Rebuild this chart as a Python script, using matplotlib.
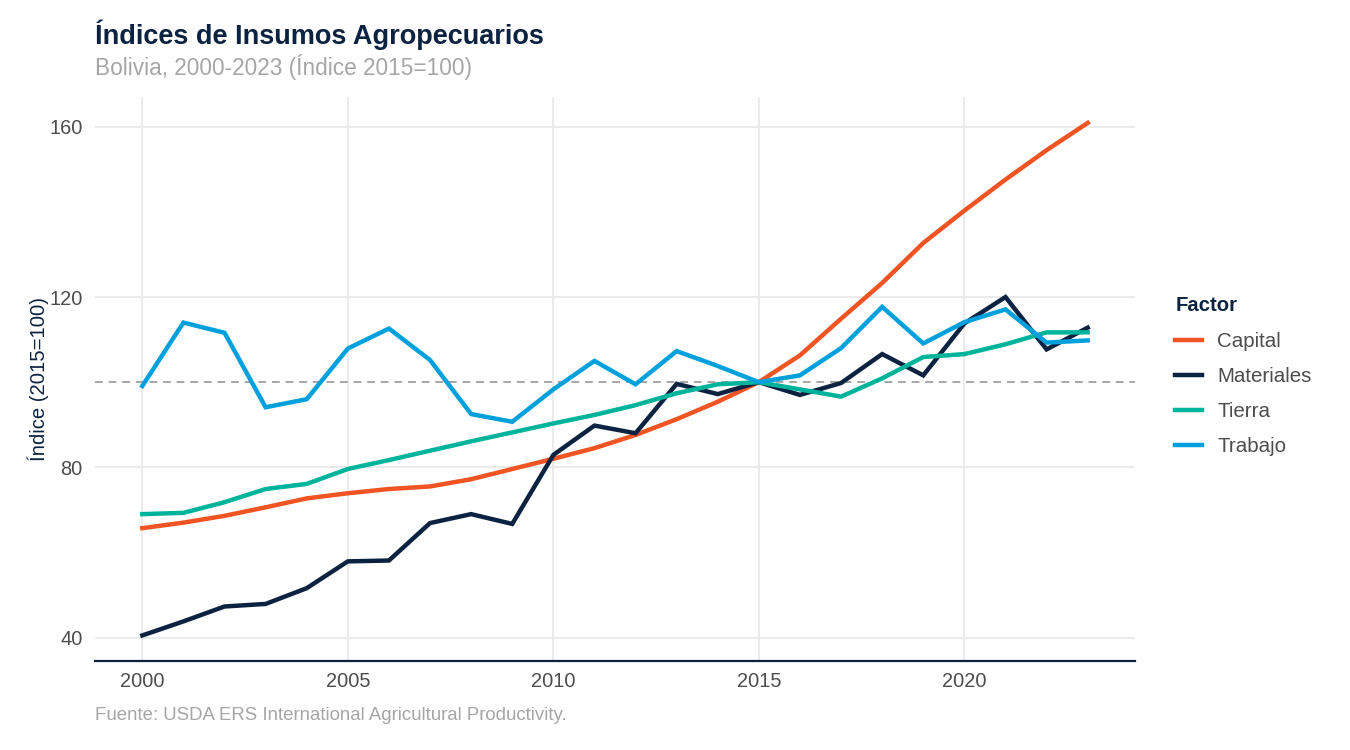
import matplotlib
matplotlib.use("Agg")
import matplotlib.pyplot as plt

plt.rcParams['font.family'] = ['Liberation Sans', 'DejaVu Sans']

years = list(range(2000, 2024))

capital = [65.7, 67.0, 68.6, 70.6, 72.7, 73.9, 74.9, 75.5, 77.2, 79.6,
           82.0, 84.5, 87.6, 91.3, 95.4, 100.0, 106.3, 114.9, 123.3, 132.7,
           140.3, 147.6, 154.5, 160.9]
materiales = [40.5, 43.8, 47.3, 47.9, 51.6, 57.9, 58.1, 66.9, 69.0, 66.7,
              82.9, 89.8, 88.0, 99.6, 97.2, 100.0, 97.0, 99.8, 106.6, 101.6,
              113.8, 120.0, 107.7, 112.8]
tierra = [69.0, 69.3, 71.8, 74.9, 76.1, 79.6, 81.7, 83.9, 86.1, 88.2,
          90.3, 92.3, 94.6, 97.4, 99.5, 100.0, 98.3, 96.6, 100.9, 105.9,
          106.6, 108.9, 111.7, 111.7]
trabajo = [99.1, 114.0, 111.6, 94.1, 96.0, 107.9, 112.6, 105.2, 92.5, 90.7,
           98.3, 105.0, 99.5, 107.3, 103.8, 100.0, 101.6, 108.0, 117.7, 109.1,
           114.1, 117.1, 109.3, 109.8]

series = [
    ("Capital", capital, "#F05423"),
    ("Materiales", materiales, "#0B2341"),
    ("Tierra", tierra, "#00B39B"),
    ("Trabajo", trabajo, "#00A0DC"),
]

NAVY = "#0B2341"
GREY_TXT = "#4D4D4D"

fig = plt.figure(figsize=(13.5, 7.5), dpi=100)
ax = fig.add_axes([0.0704, 0.1187, 0.7703, 0.752])

ax.axhline(100, color="#A6A6A6", lw=1.4, ls=(0, (4, 3)), zorder=1)

for name, vals, col in series:
    ax.plot(years, vals, color=col, lw=3.2, label=name, zorder=3,
            solid_joinstyle="miter")

ax.set_xlim(1998.85, 2024.15)
ax.set_ylim(34.5, 167)
ax.set_xticks([2000, 2005, 2010, 2015, 2020])
ax.set_yticks([40, 80, 120, 160])
ax.grid(True, color="#EBEBEB", lw=1.5, zorder=0)
ax.set_axisbelow(True)
for s in ["top", "right", "left"]:
    ax.spines[s].set_visible(False)
ax.spines["bottom"].set_color(NAVY)
ax.spines["bottom"].set_linewidth(1.6)
ax.tick_params(length=0, labelsize=14.4, labelcolor=GREY_TXT)
ax.tick_params(axis="y", pad=9)
ax.tick_params(axis="x", pad=8)
ax.set_ylabel("Índice (2015=100)", fontsize=14.6, color=NAVY, labelpad=0)

leg = ax.legend(title="Factor", loc="center left", bbox_to_anchor=(1.021, 0.505),
                frameon=False, fontsize=14.8, handlelength=1.3, handletextpad=0.75,
                labelspacing=0.78, alignment="left",
                title_fontproperties={"weight": "bold", "size": 14.6})
leg.get_title().set_color(NAVY)
leg._legend_box.sep = 12
for t in leg.get_texts():
    t.set_color(GREY_TXT)

fig.text(0.0704, 0.953, "Índices de Insumos Agropecuarios", fontsize=19.5,
         fontweight="bold", color=NAVY, va="center", ha="left")
fig.text(0.0704, 0.910, "Bolivia, 2000-2023 (Índice 2015=100)", fontsize=16.3,
         color="#A6A6A6", va="center", ha="left")
fig.text(0.0704, 0.046, "Fuente: USDA ERS International Agricultural Productivity.",
         fontsize=13.4, color="#A6A6A6", va="center", ha="left")

fig.savefig("out.png", dpi=100, facecolor="white")
